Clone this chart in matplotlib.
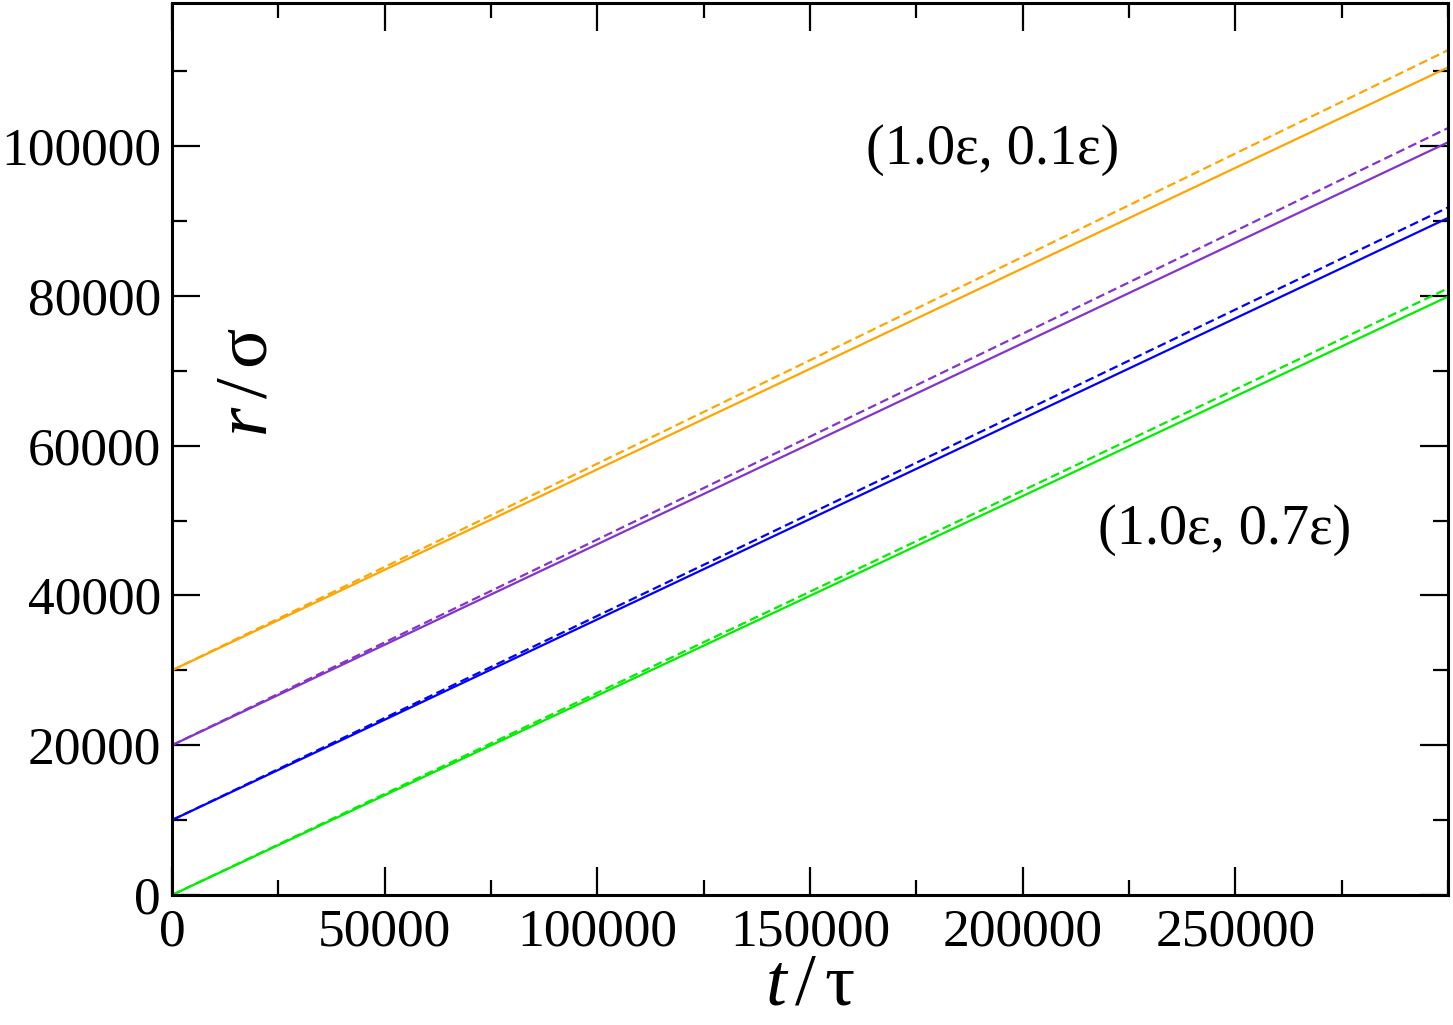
import numpy as np
import matplotlib
matplotlib.use('Agg')
import matplotlib.pyplot as plt
from matplotlib.ticker import MultipleLocator, FixedLocator

#-------------------------------------------------------------------------------
# data: straight lines, start and end values
t = [0, 300000]
r_green = [0, 79900]
r_green_d = [0, 81000]
r_blue = [10000, 90400]
r_blue_d = [10000, 91800]
r_purple = [20000, 100500]
r_purple_d = [20000, 102400]
r_orange = [30000, 110500]
r_orange_d = [30000, 112800]
xticks = [0, 50000, 100000, 150000, 200000, 250000]
yticks = [0, 20000, 40000, 60000, 80000, 100000]
labels = ['(1.0\u03b5, 0.1\u03b5)', '(1.0\u03b5, 0.7\u03b5)']
#-------------------------------------------------------------------------------
plt.rcParams['font.family'] = ['Liberation Serif', 'DejaVu Serif']
plt.rcParams['mathtext.fontset'] = 'custom'
plt.rcParams['mathtext.it'] = 'Liberation Serif:italic'
plt.rcParams['mathtext.rm'] = 'Liberation Serif'

fig = plt.figure(figsize=(14.53, 10.25), dpi=100)
ax = fig.add_axes([172/1453, 1-895/1025, (1448-172)/1453, (895-3)/1025])

green = '#00ee00'
blue = '#0000ff'
purple = '#8433cc'
orange = '#ffa500'
lw = 1.6
ax.plot(t, r_green, color=green, lw=lw)
ax.plot(t, r_green_d, color=green, lw=lw, dashes=(4, 2))
ax.plot(t, r_blue, color=blue, lw=lw)
ax.plot(t, r_blue_d, color=blue, lw=lw, dashes=(4, 2))
ax.plot(t, r_purple, color=purple, lw=lw)
ax.plot(t, r_purple_d, color=purple, lw=lw, dashes=(4, 2))
ax.plot(t, r_orange, color=orange, lw=lw)
ax.plot(t, r_orange_d, color=orange, lw=lw, dashes=(4, 2))

ax.set_xlim(0, 300000)
ax.set_ylim(0, 119100)
ax.xaxis.set_major_locator(FixedLocator(xticks))
ax.yaxis.set_major_locator(FixedLocator(yticks))
ax.xaxis.set_minor_locator(MultipleLocator(25000))
ax.yaxis.set_minor_locator(MultipleLocator(10000))
ax.tick_params(which='both', direction='in', top=True, right=True, width=1.6,
               labelsize=38.5, colors='black')
ax.tick_params(which='major', length=20, pad=8)
ax.tick_params(which='minor', length=10.5)
ax.tick_params(axis='x', pad=10)
for s in ax.spines.values():
    s.set_linewidth(2.2)

ax.set_xlabel(r'$t\,/\,\mathrm{\tau}$', fontsize=54, labelpad=-3)
ax.text(0.06, 0.575, r'$r\,/\,\mathrm{\sigma}$', transform=ax.transAxes,
        fontsize=54, rotation=90, ha='center', va='center')

ax.text(993/1453, 1-150/1025, labels[0], transform=fig.transFigure,
        fontsize=40.5, ha='center', va='center')
ax.text(1225/1453, 1-530/1025, labels[1], transform=fig.transFigure,
        fontsize=40.5, ha='center', va='center')

plt.savefig('out.png', dpi=100)
plt.close()
